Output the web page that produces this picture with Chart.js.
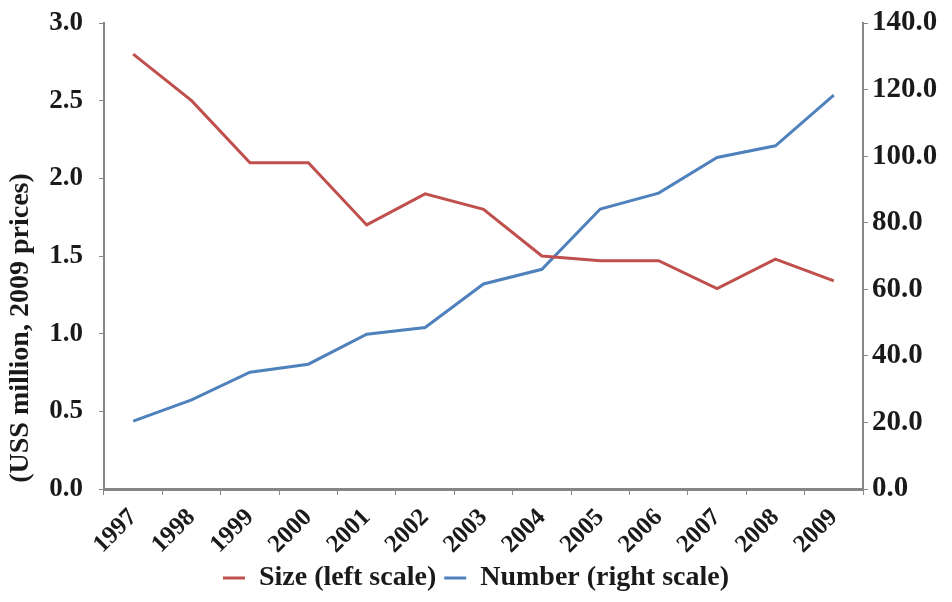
<!DOCTYPE html>
<html>
<head>
<meta charset="utf-8">
<script src="https://cdn.jsdelivr.net/npm/chart.js@4"></script>
<style>
  html, body { margin: 0; padding: 0; background: #fff; }
  #wrap { width: 952px; height: 602px; }
</style>
</head>
<body>
<div id="wrap"><canvas id="myChart" width="952" height="602"></canvas></div>
<script>
const years = ['1997','1998','1999','2000','2001','2002','2003','2004','2005','2006','2007','2008','2009'];
const sizeVals = [2.8, 2.5, 2.1, 2.1, 1.7, 1.9, 1.8, 1.5, 1.47, 1.47, 1.29, 1.48, 1.34];
const numberVals = [20.4, 26.8, 35.1, 37.5, 46.5, 48.5, 61.6, 66.0, 84.1, 88.9, 99.6, 103.1, 118.3];
const yTitle = '(USS million, 2009 prices)';

const serif = 'Liberation Serif, Times New Roman, serif';
const axisGray = '#868686';

// y title sits lower than the axis centre in the original, so draw it by hand
const sideTitle = {
    id: 'sideTitle',
    afterDraw(chart) {
        const c = chart.ctx;
        c.save();
        c.translate(21, 328);
        c.rotate(-Math.PI / 2);
        c.font = 'bold 28px ' + serif;
        c.fillStyle = '#1a1a1a';
        c.textAlign = 'center';
        c.textBaseline = 'middle';
        c.fillText(yTitle, 0, 0);
        c.restore();
    }
};

// fixed side widths, and no extra top/bottom padding from the tick labels
function fixY(w) {
    return scale => {
        scale.width = w;
        scale.paddingTop = 0;
        scale.paddingBottom = 0;
    };
}

const ctx = document.getElementById('myChart').getContext('2d');
const myChart = new Chart(ctx, {
    type: 'line',
    data: {
        labels: years,
        datasets: [{
            label: 'Size (left scale)',
            data: sizeVals,
            borderColor: '#C0504D',
            backgroundColor: '#C0504D',
            borderWidth: 3,
            radius: 0,
            tension: 0,
            yAxisID: 'y'
        }, {
            label: 'Number (right scale)',
            data: numberVals,
            borderColor: '#4F81BD',
            backgroundColor: '#4F81BD',
            borderWidth: 3,
            radius: 0,
            tension: 0,
            yAxisID: 'y1'
        }]
    },
    options: {
        responsive: false,
        animation: false,
        layout: { padding: { top: 23, left: 0, right: 0, bottom: 0 } },
        plugins: {
            legend: {
                position: 'bottom',
                labels: {
                    usePointStyle: true,
                    pointStyle: 'line',
                    pointStyleWidth: 22,
                    padding: 8,
                    color: '#1a1a1a',
                    font: { family: serif, size: 28, weight: 'bold' }
                }
            },
            tooltip: { enabled: false }
        },
        scales: {
            x: {
                offset: true,
                grid: { drawOnChartArea: false, offset: true, color: axisGray, tickLength: 6 },
                border: { color: axisGray, width: 3 },
                ticks: {
                    maxRotation: 45, minRotation: 45,
                    color: '#1a1a1a',
                    padding: 8,
                    font: { family: serif, size: 25, weight: 'bold' }
                },
                afterFit(scale) { scale.height = 67; }
            },
            y: {
                position: 'left',
                min: 0, max: 3,
                grid: { drawOnChartArea: false, color: axisGray, tickLength: 5 },
                border: { color: axisGray, width: 2 },
                ticks: {
                    stepSize: 0.5,
                    padding: 16,
                    color: '#1a1a1a',
                    font: { family: serif, size: 27, weight: 'bold' },
                    callback: v => Number(v).toFixed(1)
                },
                afterFit: fixY(104)
            },
            y1: {
                position: 'right',
                min: 0, max: 140,
                grid: { drawOnChartArea: false, color: axisGray, tickLength: 5 },
                border: { color: axisGray, width: 2 },
                ticks: {
                    stepSize: 20,
                    padding: 4,
                    color: '#1a1a1a',
                    font: { family: serif, size: 29, weight: 'bold' },
                    callback: v => Number(v).toFixed(1)
                },
                afterFit: fixY(89)
            }
        }
    },
    plugins: [sideTitle]
});
</script>
</body>
</html>
